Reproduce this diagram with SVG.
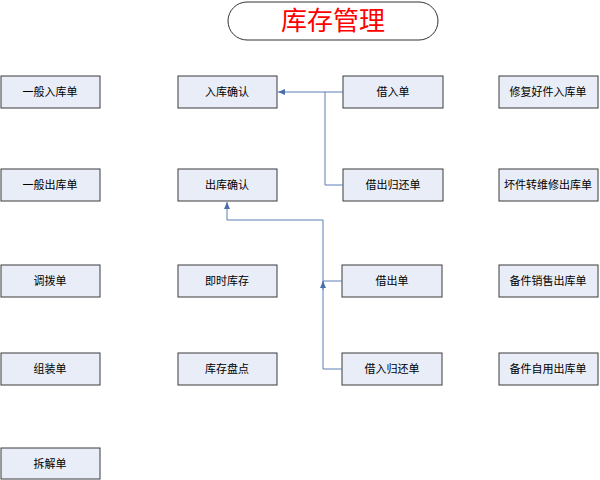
<svg xmlns="http://www.w3.org/2000/svg" width="600" height="480" viewBox="0 0 600 480">
<style>
.b rect{fill:#e8edf7;stroke:#3a3a3a;stroke-width:1}
.b text{font-family:"Noto Sans CJK SC",sans-serif;font-size:11px;text-anchor:middle;fill:#000}
.c{fill:none;stroke:#5a7fb5;stroke-width:1}
</style>
<defs><marker id="a" markerWidth="8" markerHeight="8" refX="7" refY="4" orient="auto" markerUnits="userSpaceOnUse"><path d="M0,1 L7,4 L0,7 Z" fill="#4a70aa"/></marker></defs>
<rect width="600" height="480" fill="#fff"/>
<g id="title"><rect x="228" y="2" width="210" height="38" rx="19" fill="#fff" stroke="#333"/><text x="333" y="30" font-family="Noto Sans CJK SC,sans-serif" font-size="26" fill="#ff0000" text-anchor="middle">库存管理</text></g>
<g id="n1" class="b"><rect x="1" y="76" width="99" height="32"/><text x="50" y="96">一般入库单</text></g>
<g id="n2" class="b"><rect x="1" y="169" width="99" height="32"/><text x="50" y="189">一般出库单</text></g>
<g id="n3" class="b"><rect x="1" y="265" width="99" height="32"/><text x="50" y="285">调拨单</text></g>
<g id="n4" class="b"><rect x="1" y="353" width="99" height="32"/><text x="50" y="373">组装单</text></g>
<g id="n5" class="b"><rect x="1" y="448" width="99" height="31"/><text x="50" y="468">拆解单</text></g>
<g id="n6" class="b"><rect x="178" y="76" width="99" height="32"/><text x="227" y="96">入库确认</text></g>
<g id="n7" class="b"><rect x="178" y="169" width="99" height="32"/><text x="227" y="189">出库确认</text></g>
<g id="n8" class="b"><rect x="178" y="265" width="99" height="32"/><text x="227" y="285">即时库存</text></g>
<g id="n9" class="b"><rect x="178" y="353" width="99" height="32"/><text x="227" y="373">库存盘点</text></g>
<g id="n10" class="b"><rect x="343" y="76" width="100" height="32"/><text x="393" y="96">借入单</text></g>
<g id="n11" class="b"><rect x="343" y="169" width="100" height="32"/><text x="393" y="189">借出归还单</text></g>
<g id="n12" class="b"><rect x="342" y="265" width="100" height="32"/><text x="392" y="285">借出单</text></g>
<g id="n13" class="b"><rect x="342" y="353" width="100" height="32"/><text x="392" y="373">借入归还单</text></g>
<g id="n14" class="b"><rect x="499" y="76" width="99" height="32"/><text x="548" y="96">修复好件入库单</text></g>
<g id="n15" class="b"><rect x="499" y="169" width="99" height="32"/><text x="548" y="189">坏件转维修出库单</text></g>
<g id="n16" class="b"><rect x="499" y="265" width="99" height="32"/><text x="548" y="285">备件销售出库单</text></g>
<g id="n17" class="b"><rect x="499" y="353" width="99" height="32"/><text x="548" y="373">备件自用出库单</text></g>
<g id="connectors">
<path class="c" d="M343,92 H278" marker-end="url(#a)"/>
<path class="c" d="M343,185 H325 V92"/>
<path class="c" d="M342,369 H323 V220 H227 V202" marker-end="url(#a)"/>
<path class="c" d="M342,281 H323"/>
<path class="c" d="M323,290 V281" marker-end="url(#a)"/>
</g>
</svg>
